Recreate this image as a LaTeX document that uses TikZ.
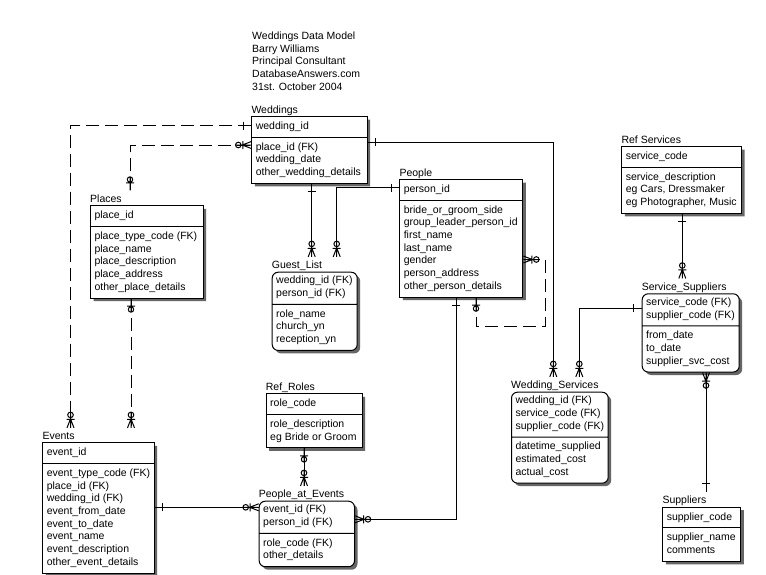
\documentclass[tikz,border=0pt]{standalone}
\usepackage{fontspec}
\setmainfont{Liberation Sans}
\usetikzlibrary{
    shapes.multipart,
    shadows,
    calc
}

% relationship ends
\pgfdeclarearrow{
    name=one,
    parameters={\the\pgflinewidth},
    setup code={
        \pgfarrowssettipend{0pt}
        \pgfarrowssetlineend{0pt}
        \pgfarrowssetbackend{-9pt}
    },
    drawing code={
        \pgfsetdash{}{0pt}
        \pgfpathmoveto{\pgfpoint{-8pt}{4pt}}
        \pgfpathlineto{\pgfpoint{-8pt}{-4pt}}
        \pgfusepathqstroke
    }
}
\pgfdeclarearrow{
    name=zone,
    parameters={\the\pgflinewidth},
    setup code={
        \pgfarrowssettipend{0pt}
        \pgfarrowssetlineend{0pt}
        \pgfarrowssetbackend{-14pt}
    },
    drawing code={
        \pgfsetdash{}{0pt}
        \pgfpathmoveto{\pgfpoint{0pt}{0pt}}
        \pgfpathlineto{\pgfpoint{-14pt}{0pt}}
        \pgfpathmoveto{\pgfpoint{-7.5pt}{4pt}}
        \pgfpathlineto{\pgfpoint{-7.5pt}{-4pt}}
        \pgfpathcircle{\pgfpoint{-11pt}{0pt}}{2.7pt}
        \pgfusepathqstroke
    }
}
\pgfdeclarearrow{
    name=zmany,
    parameters={\the\pgflinewidth},
    setup code={
        \pgfarrowssettipend{0pt}
        \pgfarrowssetlineend{0pt}
        \pgfarrowssetbackend{-16pt}
    },
    drawing code={
        \pgfsetdash{}{0pt}
        \pgfpathmoveto{\pgfpoint{0pt}{0pt}}
        \pgfpathlineto{\pgfpoint{-16pt}{0pt}}
        \pgfpathmoveto{\pgfpoint{0pt}{3.5pt}}
        \pgfpathlineto{\pgfpoint{-9pt}{0pt}}
        \pgfpathlineto{\pgfpoint{0pt}{-3.5pt}}
        \pgfpathmoveto{\pgfpoint{-8.5pt}{4pt}}
        \pgfpathlineto{\pgfpoint{-8.5pt}{-4pt}}
        \pgfpathcircle{\pgfpoint{-13pt}{0pt}}{2.8pt}
        \pgfusepathqstroke
    }
}

\newcommand{\keyend}{\strut\nodepart{two}\strut}

\begin{document}
\begin{tikzpicture}[
    x=1pt, y=-1pt,
    font=\fontsize{10.5}{12.7}\selectfont,
    entity/.style={rectangle split, rectangle split parts=2, rectangle split part align=left,
        draw=black, line width=1pt, fill=white, anchor=north west, align=left,
        inner xsep=4pt, inner ysep=3.5pt,
        execute at begin node=\strut, execute at end node=\strut,
        drop shadow={shadow xshift=3pt, shadow yshift=-3pt, fill=black!60, opacity=1}},
    dep/.style={entity, rounded corners=6pt},
    ttl/.style={anchor=base west, inner xsep=0pt, inner ysep=4pt, yshift=3pt},
    rel/.style={line width=1pt},
    opt/.style={rel, dash pattern=on 13pt off 6pt}
]
    \path[use as bounding box, fill=white] (0,0) rectangle (766,574);

    % Header
    \node[align=left, anchor=north west, inner sep=0pt] (hdr) at (252,31.5)
        {Weddings Data Model\\Barry Williams\\Principal Consultant\\DatabaseAnswers.com\\31st. October 2004};

    % Entities
    \node[entity, minimum width=115.4pt, label={[ttl, name=wed-t]north west:Weddings}] (wed) at (251.3,116)
        {wedding\_id\keyend place\_id (FK)\\wedding\_date\\other\_wedding\_details};
    \node[entity, minimum width=112.7pt, label={[ttl, name=pl-t]north west:Places}] (pl) at (90,205.3)
        {place\_id\keyend place\_type\_code (FK)\\place\_name\\place\_description\\place\_address\\other\_place\_details};
    \node[dep, minimum width=85pt, label={[ttl, name=gl-t]north west:Guest\_List}] (gl) at (271.7,271.7)
        {wedding\_id (FK)\\person\_id (FK)\keyend role\_name\\church\_yn\\reception\_yn};
    \node[entity, minimum width=123pt, label={[ttl, name=pp-t]north west:People}] (pp) at (399.3,179)
        {person\_id\keyend bride\_or\_groom\_side\\group\_leader\_person\_id\\first\_name\\last\_name\\gender\\person\_address\\other\_person\_details};
    \node[entity, minimum width=119.7pt, label={[ttl, name=rs-t]north west:Ref Services}] (rs) at (621.3,146)
        {service\_code\keyend service\_description\\eg Cars, Dressmaker\\eg Photographer, Music};
    \node[dep, minimum width=97pt, label={[ttl, name=ss-t]north west:Service\_Suppliers}] (ss) at (641.7,293.3)
        {service\_code (FK)\\supplier\_code (FK)\keyend from\_date\\to\_date\\supplier\_svc\_cost};
    \node[dep, minimum width=95pt, label={[ttl, name=ws-t]north west:Wedding\_Services}] (ws) at (511,391.7)
        {wedding\_id (FK)\\service\_code (FK)\\supplier\_code (FK)\keyend datetime\_supplied\\estimated\_cost\\actual\_cost};
    \node[entity, minimum width=78pt, label={[ttl, name=sup-t]north west:Suppliers}] (sup) at (662.3,506.7)
        {supplier\_code\keyend supplier\_name\\comments};
    \node[entity, minimum width=111pt, label={[ttl, name=ev-t]north west:Events}] (ev) at (42.3,442.3)
        {event\_id\keyend event\_type\_code (FK)\\place\_id (FK)\\wedding\_id (FK)\\event\_from\_date\\event\_to\_date\\event\_name\\event\_description\\other\_event\_details};
    \node[entity, minimum width=96pt, label={[ttl, name=rr-t]north west:Ref\_Roles}] (rr) at (265.7,393.3)
        {role\_code\keyend role\_description\\eg Bride or Groom};
    \node[dep, minimum width=95.3pt, label={[ttl, name=pae-t]north west:People\_at\_Events}] (pae) at (258.7,500.7)
        {event\_id (FK)\\person\_id (FK)\keyend role\_code (FK)\\other\_details};

    % Relationships
    \draw[opt, one-zmany] ([yshift=-9.5pt]wed.north west) -| ([xshift=28.2pt]ev-t.north west);
    \draw[opt, zone-zmany] ([xshift=40pt]pl-t.north west) |- ([yshift=-29pt]wed.north west);
    \draw[opt, zone-zmany] ([xshift=41pt]pl.south west) -- ([xshift=88.7pt]ev-t.north west);
    \draw[rel, one-zmany] ([xshift=60.4pt]wed.south west) -- ([xshift=40pt]gl-t.north west);
    \draw[rel, one-zmany] ([yshift=-8.7pt]pp.north west) -| ([xshift=65pt]gl-t.north west);
    \draw[rel, one-zmany] ([yshift=-26.3pt]wed.north east) -| ([xshift=42.3pt]ws-t.north west);
    \draw[opt, zone-zmany] ([xshift=76.7pt]pp.south west) -- ++(0,29)
        -| ([xshift=22pt,yshift=-80.5pt]pp.north east) -- ([yshift=-80.5pt]pp.north east);
    \draw[rel, one-zmany] ([xshift=56.7pt]pp.south west) |- ([yshift=-18.6pt]pae.north east);
    \draw[rel, one-zmany] ([yshift=-65pt]ev.north east) -- ([yshift=-6.6pt]pae.north west);
    \draw[rel, zone-zmany] ([xshift=38.3pt]rr.south west) -- ([xshift=45.3pt]pae-t.north west);
    \draw[rel, one-zmany] ([xshift=61pt]rs.south west) -- ([xshift=40.6pt]ss-t.north west);
    \draw[rel, one-zmany] ([yshift=-15pt]ss.north west) -| ([xshift=68.3pt]ws-t.north west);
    \draw[rel, one-zmany] ([xshift=43.7pt]sup-t.north west) -- ([xshift=64.3pt]ss.south west);

\end{tikzpicture}
\end{document}
